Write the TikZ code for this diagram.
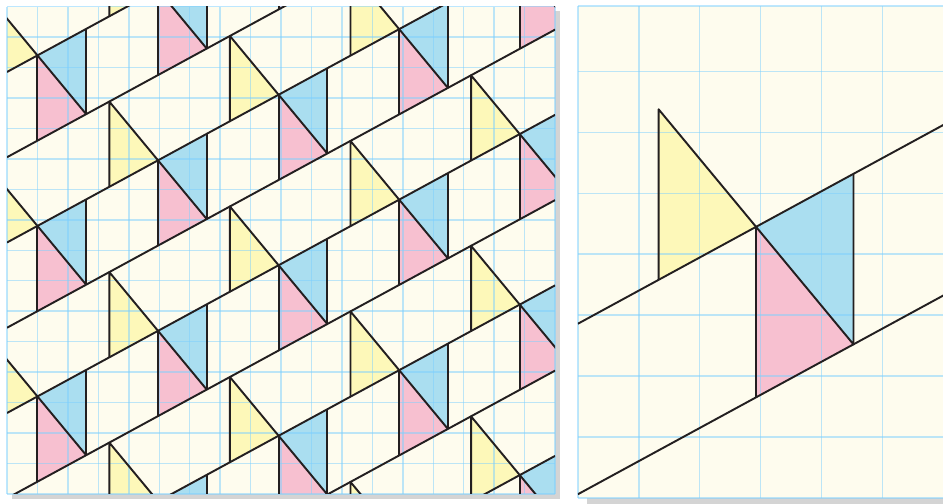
\documentclass[tikz,border=0pt]{standalone}
\usepackage{tikz}
\usetikzlibrary{calc}

\definecolor{paper}{HTML}{FEFCEE}
\definecolor{gridblue}{HTML}{7CD0FF}
\definecolor{tileyellow}{HTML}{FDF8B9}
\definecolor{tilepink}{HTML}{F7C0D0}
\definecolor{tileblue}{HTML}{AADEF0}
\definecolor{ink}{HTML}{231F20}

\begin{document}
\begin{tikzpicture}[
    edge/.style={draw=ink, line width=1.8pt, line join=round},
    gridline/.style={draw=gridblue, draw opacity=0.5, line width=1.4pt},
    shadow/.style={fill=black!17},
  ]
  \useasboundingbox (-0.23,-0.33) rectangle (30.74,16.22);

  % left panel: the whole pattern
  \fill[shadow] (0.15,-0.16) rectangle (18.16,15.85);
  \fill[paper] (0,0) rectangle (18,16);
  \begin{scope}
    \clip (0,0) rectangle (18,16);
    \foreach \n in {-1,...,5} {
      \foreach \j in {-2,...,6} {
        \coordinate (t) at ({1+3.96*\n},{14.4+2.154*\n-5.6*\j});
        \fill[tileyellow] (t) -- ++(-1.6,-0.87) -- ++(0,2.8) -- cycle;
        \fill[tileblue] (t) -- ++(1.6,0.87) -- ++(0,-2.8) -- cycle;
        \fill[tilepink] (t) -- ++(1.6,-1.93) -- ++(-1.6,-0.87) -- cycle;
      }
    }
  \end{scope}
  \foreach \x in {0,...,18} \draw[gridline] (\x,0) -- (\x,16);
  \foreach \y in {0,...,16} \draw[gridline] (0,\y) -- (18,\y);
  \begin{scope}
    \clip (0,0) rectangle (18,16);
    \foreach \n in {-1,...,5} {
      \foreach \j in {-2,...,6} {
        \coordinate (t) at ({1+3.96*\n},{14.4+2.154*\n-5.6*\j});
        \draw[edge] (t) ++(-1.6,-0.87) -- ++(0,2.8) -- ++(3.2,-3.86);
        \draw[edge] (t) -- ++(0,-2.8);
        \draw[edge] (t) ++(1.6,0.87) -- ++(0,-2.8);
      }
    }
    \foreach \k in {-1,...,9}
      \draw[edge] (0,{13.856-2.8*\k}) -- (18,{13.856-2.8*\k+9.792});
  \end{scope}

  % right panel: one piece, twice as large
  \fill[shadow] (19.05,-0.4) rectangle (31,15.8);
  \fill[paper] (18.75,-0.13) rectangle (30.9,16.03);
  \coordinate (apex) at (24.6,8.77);
  \coordinate (ytop) at ($(apex)+(-3.2,3.86)$);
  \coordinate (ybot) at ($(apex)+(-3.2,-1.74)$);
  \coordinate (btop) at ($(apex)+(3.2,1.74)$);
  \coordinate (bbot) at ($(apex)+(3.2,-3.86)$);
  \coordinate (pbot) at ($(apex)+(0,-5.6)$);
  \fill[tileyellow] (ytop) -- (ybot) -- (apex) -- cycle;
  \fill[tileblue] (apex) -- (btop) -- (bbot) -- cycle;
  \fill[tilepink] (apex) -- (bbot) -- (pbot) -- cycle;
  \foreach \x in {0,...,6} \draw[gridline] ({18.75+2*\x},-0.13) -- ({18.75+2*\x},16.03);
  \foreach \y in {0,...,7} \draw[gridline] (18.75,{-0.13+2*\y}) -- (30.9,{-0.13+2*\y});
  \draw[gridline] (18.75,16.03) -- (30.9,16.03);
  \begin{scope}
    \clip (18.75,-0.13) rectangle (30.9,16.03);
    \draw[edge] ($(apex)+(-5.85,-3.182)$) -- ($(apex)+(6.3,3.427)$);
    \draw[edge] ($(apex)+(-5.85,-8.782)$) -- ($(apex)+(6.3,-2.173)$);
    \draw[edge] (ybot) -- (ytop) -- (apex) -- (bbot) -- (btop);
    \draw[edge] (apex) -- (pbot);
  \end{scope}
\end{tikzpicture}
\end{document}
